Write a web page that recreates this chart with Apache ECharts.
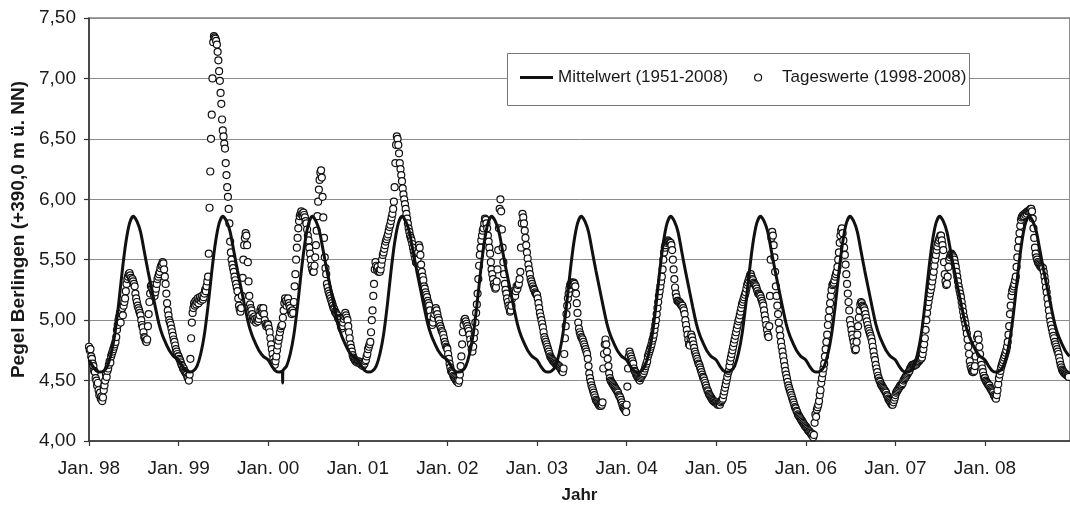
<!DOCTYPE html>
<html>
<head>
<meta charset="utf-8">
<script src="https://cdn.jsdelivr.net/npm/echarts@6/dist/echarts.min.js"></script>
<style>
html,body{margin:0;padding:0;background:#fff;}
#chart{width:1070px;height:507px;}
</style>
</head>
<body>
<div id="chart"></div>
<script>
// ---------------- data ----------------
const years = [1998,1999,2000,2001,2002,2003,2004,2005,2006,2007,2008];
const xTickLabels = ['Jan. 98','Jan. 99','Jan. 00','Jan. 01','Jan. 02','Jan. 03','Jan. 04','Jan. 05','Jan. 06','Jan. 07','Jan. 08'];
const yTicks = [4.0,4.5,5.0,5.5,6.0,6.5,7.0,7.5];
const seriesNames = ['Mittelwert (1951-2008)','Tageswerte (1998-2008)'];
const yAxisTitle = 'Pegel Berlingen (+390,0 m ü. NN)';
const xAxisTitle = 'Jahr';

// mean annual cycle 1951-2008 (day of year -> level)
const meanDays   = [0,15,30,45,60,75,90,105,120,135,150,165,180,195,210,225,240,255,270,285,300,315,330,345];
const meanValues = [4.67,4.62,4.58,4.57,4.58,4.62,4.72,4.88,5.12,5.40,5.64,5.80,5.86,5.82,5.73,5.57,5.41,5.26,5.11,4.97,4.87,4.80,4.74,4.70];
// 29 Feb 2000 (leap day) in the mean curve
const leapDays2000   = [58,59,60];
const leapValues2000 = [4.58,4.48,4.58];

// daily values, one reading every 3 days from 1 Jan of each year
const STEP_DAYS = 3;
const daily1998 = [
4.78,4.75,4.76,4.70,4.68,4.64,4.62,4.58,4.57,4.52,
4.50,4.46,4.48,4.42,4.38,4.40,4.35,4.37,4.33,4.36,
4.42,4.46,4.50,4.55,4.53,4.58,4.60,4.63,4.66,4.65,
4.70,4.72,4.74,4.76,4.78,4.80,4.82,4.86,4.92,4.96,
5.00,5.03,5.06,4.98,5.08,5.10,5.04,5.12,5.15,5.18,
5.24,5.30,5.34,5.36,5.38,5.39,5.37,5.35,5.33,5.34,
5.32,5.30,5.28,5.22,5.18,5.15,5.12,5.10,5.08,5.06,
5.04,5.00,4.96,4.94,4.90,4.86,4.85,4.83,4.82,4.84,
4.95,5.05,5.15,5.22,5.28,5.29,5.26,5.24,5.22,5.20,
5.23,5.26,5.30,5.34,5.36,5.38,5.40,5.43,5.45,5.46,
5.48,5.47,5.42,5.36,5.30,5.22,5.14,5.08,5.04,5.00,
4.98,4.96,4.93,4.90,4.87,4.84,4.82,4.79,4.76,4.74,4.72,4.70];
const daily1999 = [
4.70,4.68,4.67,4.65,4.63,4.62,4.60,4.60,4.58,4.57,
4.56,4.55,4.53,4.52,4.50,4.55,4.68,4.85,4.98,5.06,
5.10,5.14,5.12,5.16,5.13,5.15,5.18,5.14,5.17,5.19,
5.16,5.18,5.20,5.17,5.19,5.22,5.25,5.24,5.28,5.32,
5.36,5.55,5.93,6.23,6.50,6.70,7.00,7.30,7.35,7.34,
7.33,7.31,7.28,7.22,7.15,7.06,6.98,6.88,6.79,6.66,
6.57,6.52,6.46,6.42,6.30,6.20,6.10,6.02,5.92,5.80,
5.65,5.56,5.50,5.46,5.43,5.40,5.36,5.33,5.30,5.27,
5.24,5.18,5.12,5.09,5.07,5.10,5.20,5.35,5.50,5.62,
5.68,5.72,5.70,5.62,5.48,5.32,5.20,5.13,5.10,5.08,
5.05,5.02,5.00,5.03,5.01,4.98,5.00,5.02,4.99,5.01,
5.04,5.08,5.10,5.08,5.06,5.10,5.05,5.00,4.97,4.95,4.96,4.97];
const daily2000 = [
4.96,4.93,4.90,4.85,4.80,4.76,4.72,4.68,4.65,4.63,
4.66,4.70,4.75,4.79,4.83,4.86,4.90,4.93,4.95,4.96,
5.02,5.08,5.14,5.18,5.16,5.12,5.15,5.18,5.14,5.12,
5.10,5.07,5.05,5.08,5.06,5.15,5.28,5.38,5.50,5.60,
5.68,5.76,5.82,5.86,5.88,5.90,5.88,5.86,5.89,5.87,
5.85,5.82,5.80,5.75,5.70,5.66,5.60,5.55,5.50,5.45,
5.42,5.40,5.40,5.45,5.52,5.62,5.74,5.86,5.98,6.08,
6.16,6.22,6.24,6.18,6.02,5.85,5.68,5.52,5.43,5.38,
5.30,5.27,5.24,5.22,5.20,5.18,5.16,5.14,5.12,5.10,
5.09,5.07,5.06,5.05,5.04,5.02,5.01,5.00,4.98,4.95,
4.93,4.95,4.98,5.01,5.03,5.06,5.04,5.02,5.00,4.95,
4.90,4.85,4.80,4.77,4.74,4.71,4.69,4.68,4.67,4.66,4.66,4.65];
const daily2001 = [
4.66,4.66,4.65,4.64,4.65,4.63,4.64,4.62,4.63,4.64,
4.66,4.67,4.70,4.72,4.76,4.78,4.80,4.82,4.90,5.00,
5.08,5.20,5.30,5.42,5.48,5.45,5.42,5.44,5.40,5.41,
5.40,5.42,5.46,5.50,5.54,5.56,5.59,5.62,5.65,5.67,
5.69,5.71,5.74,5.77,5.79,5.82,5.85,5.88,5.92,5.98,
6.10,6.30,6.45,6.52,6.50,6.45,6.38,6.30,6.25,6.20,
6.15,6.09,6.04,6.00,5.96,5.92,5.88,5.84,5.80,5.76,
5.73,5.70,5.68,5.66,5.63,5.60,5.57,5.54,5.51,5.48,
5.47,5.50,5.56,5.62,5.60,5.54,5.46,5.40,5.36,5.33,
5.28,5.26,5.23,5.21,5.19,5.16,5.14,5.12,5.08,5.03,
4.98,4.96,4.98,5.02,5.05,5.08,5.10,5.08,5.05,5.02,
5.00,4.97,4.95,4.93,4.91,4.90,4.88,4.85,4.82,4.80,4.78,4.77];
const daily2002 = [
4.76,4.72,4.68,4.64,4.61,4.58,4.57,4.56,4.54,4.53,
4.52,4.51,4.50,4.49,4.50,4.48,4.50,4.55,4.62,4.70,
4.80,4.90,4.96,5.00,5.01,4.99,4.97,4.95,4.93,4.91,
4.88,4.84,4.80,4.76,4.74,4.78,4.85,4.90,4.98,5.06,
5.13,5.22,5.34,5.45,5.54,5.60,5.66,5.70,5.74,5.76,
5.80,5.84,5.83,5.80,5.76,5.70,5.65,5.60,5.55,5.48,
5.42,5.38,5.34,5.30,5.28,5.26,5.27,5.32,5.42,5.58,
5.76,5.92,6.00,5.90,5.75,5.60,5.48,5.38,5.30,5.25,
5.22,5.18,5.15,5.12,5.10,5.07,5.08,5.12,5.18,5.22,
5.24,5.22,5.20,5.24,5.28,5.26,5.29,5.30,5.34,5.40,
5.60,5.80,5.88,5.85,5.80,5.74,5.68,5.62,5.56,5.51,
5.46,5.42,5.38,5.34,5.32,5.30,5.28,5.26,5.25,5.23,5.22,5.21];
const daily2003 = [
5.21,5.18,5.14,5.10,5.06,5.03,5.00,4.97,4.94,4.90,
4.86,4.84,4.82,4.80,4.78,4.76,4.74,4.72,4.70,4.69,
4.68,4.67,4.66,4.66,4.65,4.64,4.64,4.63,4.63,4.62,
4.62,4.61,4.60,4.59,4.58,4.57,4.60,4.72,4.85,4.95,
5.05,5.12,5.18,5.22,5.26,5.29,5.30,5.31,5.31,5.30,
5.31,5.30,5.28,5.22,5.14,5.06,4.98,4.93,4.90,4.88,
4.86,4.85,4.84,4.82,4.80,4.78,4.76,4.74,4.72,4.68,
4.62,4.56,4.52,4.49,4.46,4.44,4.42,4.40,4.38,4.36,
4.34,4.33,4.32,4.31,4.30,4.29,4.30,4.29,4.30,4.32,
4.60,4.72,4.80,4.84,4.80,4.74,4.68,4.62,4.56,4.52,
4.50,4.49,4.48,4.47,4.46,4.45,4.44,4.43,4.42,4.41,
4.40,4.38,4.37,4.36,4.34,4.32,4.30,4.28,4.27,4.26,4.25,4.24];
const daily2004 = [
4.30,4.45,4.60,4.70,4.74,4.72,4.70,4.68,4.66,4.64,
4.60,4.58,4.57,4.55,4.54,4.53,4.52,4.51,4.50,4.52,
4.53,4.54,4.55,4.56,4.58,4.60,4.62,4.64,4.66,4.70,
4.72,4.74,4.76,4.78,4.80,4.83,4.85,4.88,4.92,4.96,
5.00,5.05,5.10,5.15,5.20,5.24,5.28,5.32,5.36,5.42,
5.50,5.56,5.60,5.62,5.64,5.65,5.66,5.65,5.65,5.64,
5.64,5.62,5.58,5.50,5.42,5.34,5.27,5.22,5.19,5.16,
5.16,5.15,5.15,5.14,5.13,5.12,5.12,5.10,5.08,5.05,
5.00,4.96,4.92,4.88,4.84,4.80,4.79,4.85,4.88,4.86,
4.83,4.80,4.77,4.74,4.72,4.70,4.68,4.66,4.64,4.63,
4.61,4.59,4.57,4.55,4.53,4.52,4.50,4.48,4.46,4.44,
4.42,4.41,4.39,4.38,4.37,4.36,4.35,4.34,4.33,4.33,4.32,4.32];
const daily2005 = [
4.32,4.31,4.30,4.30,4.31,4.30,4.32,4.33,4.34,4.35,
4.38,4.41,4.44,4.47,4.50,4.53,4.56,4.58,4.62,4.66,
4.69,4.72,4.75,4.78,4.81,4.84,4.87,4.90,4.93,4.96,
4.99,5.01,5.04,5.07,5.10,5.13,5.15,5.17,5.19,5.21,
5.23,5.26,5.29,5.31,5.33,5.35,5.37,5.38,5.36,5.34,
5.33,5.31,5.30,5.29,5.28,5.26,5.24,5.22,5.22,5.21,
5.20,5.18,5.16,5.14,5.12,5.08,5.04,5.00,4.96,4.92,
4.88,4.86,4.95,5.20,5.50,5.68,5.73,5.70,5.62,5.52,
5.40,5.28,5.20,5.12,5.05,4.98,4.92,4.87,4.82,4.78,
4.74,4.70,4.66,4.62,4.58,4.55,4.52,4.49,4.46,4.44,
4.42,4.40,4.38,4.36,4.34,4.32,4.30,4.28,4.27,4.25,
4.24,4.22,4.21,4.20,4.19,4.18,4.17,4.16,4.15,4.14,4.13,4.12];
const daily2006 = [
4.12,4.11,4.10,4.09,4.08,4.08,4.07,4.06,4.05,4.06,
4.03,4.05,4.15,4.22,4.20,4.26,4.28,4.30,4.33,4.38,
4.42,4.48,4.52,4.56,4.60,4.64,4.70,4.76,4.82,4.88,
4.96,5.02,5.08,5.14,5.20,5.25,5.29,5.30,5.31,5.33,
5.36,5.38,5.40,5.44,5.50,5.56,5.64,5.70,5.74,5.76,
5.72,5.66,5.60,5.54,5.46,5.38,5.30,5.22,5.15,5.08,
5.00,4.96,4.92,4.88,4.85,4.82,4.78,4.75,4.76,4.82,
4.88,4.95,5.02,5.08,5.13,5.15,5.14,5.12,5.11,5.10,
5.08,5.05,5.02,4.99,4.96,4.93,4.91,4.89,4.87,4.85,
4.82,4.78,4.74,4.70,4.67,4.63,4.60,4.57,4.54,4.52,
4.50,4.49,4.47,4.46,4.45,4.44,4.43,4.42,4.41,4.40,
4.38,4.37,4.35,4.34,4.33,4.32,4.31,4.30,4.30,4.32,4.34,4.36];
const daily2007 = [
4.38,4.40,4.41,4.42,4.43,4.44,4.45,4.46,4.46,4.47,
4.48,4.50,4.51,4.52,4.53,4.54,4.55,4.56,4.57,4.58,
4.60,4.61,4.62,4.63,4.63,4.62,4.63,4.64,4.63,4.64,
4.65,4.66,4.66,4.67,4.68,4.68,4.69,4.72,4.76,4.80,
4.85,4.92,5.00,5.06,5.11,5.15,5.19,5.22,5.25,5.28,
5.32,5.36,5.40,5.45,5.50,5.54,5.58,5.61,5.64,5.66,
5.68,5.70,5.70,5.66,5.62,5.58,5.48,5.38,5.32,5.29,
5.30,5.36,5.44,5.50,5.52,5.54,5.55,5.54,5.53,5.52,
5.50,5.47,5.44,5.40,5.36,5.32,5.28,5.25,5.22,5.19,
5.15,5.11,5.07,5.03,5.00,4.97,4.93,4.89,4.84,4.78,
4.72,4.66,4.62,4.60,4.58,4.57,4.57,4.58,4.62,4.70,
4.80,4.86,4.88,4.84,4.78,4.72,4.67,4.63,4.60,4.57,4.54,4.52];
const daily2008 = [
4.52,4.50,4.49,4.48,4.47,4.46,4.46,4.44,4.43,4.42,
4.41,4.40,4.38,4.37,4.36,4.35,4.38,4.42,4.47,4.52,
4.55,4.58,4.61,4.63,4.65,4.67,4.69,4.71,4.73,4.75,
4.78,4.82,4.88,4.95,5.05,5.12,5.20,5.24,5.26,5.28,
5.30,5.33,5.36,5.44,5.52,5.60,5.66,5.72,5.78,5.83,
5.85,5.86,5.87,5.86,5.88,5.87,5.89,5.88,5.90,5.90,
5.90,5.91,5.92,5.92,5.90,5.84,5.76,5.68,5.60,5.55,
5.52,5.50,5.48,5.47,5.46,5.45,5.44,5.44,5.43,5.43,
5.40,5.36,5.32,5.27,5.23,5.18,5.13,5.08,5.03,4.99,
4.96,4.93,4.90,4.87,4.85,4.82,4.80,4.78,4.76,4.74,
4.72,4.69,4.66,4.63,4.61,4.59,4.58,4.57,4.56,4.56,
4.55,4.55,4.54,4.54,4.53];

const dailyByYear = {1998:daily1998,1999:daily1999,2000:daily2000,2001:daily2001,2002:daily2002,
  2003:daily2003,2004:daily2004,2005:daily2005,2006:daily2006,2007:daily2007,2008:daily2008};

// ---------------- build series data ----------------
function daysInYear(y){ return (y%4===0 && (y%100!==0 || y%400===0)) ? 366 : 365; }

const dailyData = [];
years.forEach(y => {
  const diy = daysInYear(y);
  dailyByYear[y].forEach((v,k) => dailyData.push([y + k*STEP_DAYS/diy, v]));
});

const meanData = [];
years.forEach(y => {
  const diy = daysInYear(y);
  meanDays.forEach((d,i) => {
    if (y === 2000 && d === 60) return;
    meanData.push([y + d/diy, meanValues[i]]);
  });
  if (y === 2000) leapDays2000.forEach((d,i) => meanData.push([y + d/diy, leapValues2000[i]]));
});
meanData.sort((a,b) => a[0]-b[0]);

// ---------------- chart ----------------
const FONT = '"Liberation Sans", Arial, Helvetica, sans-serif';
const chart = echarts.init(document.getElementById('chart'), null, {renderer:'canvas'});
chart.setOption({
  animation: false,
  backgroundColor: '#ffffff',
  textStyle: {fontFamily: FONT, color: '#1a1a1a'},
  grid: {left: 89, top: 18, right: 0, bottom: 66, show: true, borderColor: '#444', borderWidth: 1.2,
         containLabel: false, outerBoundsMode: 'none'},
  xAxis: {
    type: 'value', min: 1998, max: 1998 + (1070-89)/89.6, interval: 1,
    name: xAxisTitle, nameLocation: 'middle', nameGap: 46,
    nameTextStyle: {fontFamily: FONT, fontSize: 17, fontWeight: 'bold', color: '#1a1a1a'},
    axisLine: {show: true, onZero: false, lineStyle: {color: '#333', width: 1.5}},
    axisTick: {show: true, inside: false, length: 5, lineStyle: {color: '#333', width: 1.2}},
    axisLabel: {
      show: true, margin: 18, fontSize: 19, fontFamily: FONT, color: '#1a1a1a', showMaxLabel: false,
      formatter: v => {
        const r = Math.round(v);
        return Math.abs(v - r) < 1e-6 && r >= 1998 && r <= 2008 ? xTickLabels[r - 1998] : '';
      }
    },
    splitLine: {show: false}
  },
  yAxis: {
    type: 'value', min: 4, max: 7.5, interval: 0.5,
    name: yAxisTitle, nameLocation: 'middle', nameGap: 61, nameRotate: 90,
    nameTextStyle: {fontFamily: FONT, fontSize: 19, fontWeight: 'bold', color: '#1a1a1a'},
    axisLine: {show: true, lineStyle: {color: '#333', width: 1.5}},
    axisTick: {show: true, inside: false, length: 5, lineStyle: {color: '#333', width: 1.2}},
    axisLabel: {margin: 13, fontSize: 19, fontFamily: FONT, color: '#1a1a1a',
      formatter: v => v.toFixed(2).replace('.', ',')},
    splitLine: {show: true, lineStyle: {color: '#8c8c8c', width: 1}}
  },
  legend: [
    {data: [seriesNames[0]], left: 520, top: 69, padding: 0, itemGap: 0,
     itemWidth: 33, itemHeight: 3, icon: 'rect',
     itemStyle: {color: '#111', borderWidth: 0},
     textStyle: {fontFamily: FONT, fontSize: 17, color: '#1a1a1a'}},
    {data: [seriesNames[1]], left: 754, top: 69, padding: 0, itemGap: 0,
     itemWidth: 38, itemHeight: 7, icon: 'circle',
     itemStyle: {color: '#fff', borderColor: '#111', borderWidth: 1.2},
     textStyle: {fontFamily: FONT, fontSize: 17, color: '#1a1a1a'}}
  ],
  graphic: [{
    type: 'rect', left: 507, top: 53, z: 3,
    shape: {width: 462, height: 52},
    style: {fill: '#fff', stroke: '#777', lineWidth: 1}
  }],
  series: [
    {
      name: seriesNames[0], type: 'line', data: meanData, z: 4,
      symbol: 'none', smooth: 0.25, clip: true,
      lineStyle: {color: '#111', width: 3}, itemStyle: {color: '#111'}
    },
    {
      name: seriesNames[1], type: 'scatter', data: dailyData, z: 2,
      symbol: 'circle', symbolSize: 7, clip: true,
      itemStyle: {color: '#ffffff', borderColor: '#111', borderWidth: 1.2, opacity: 1}
    }
  ]
});
</script>
</body>
</html>
